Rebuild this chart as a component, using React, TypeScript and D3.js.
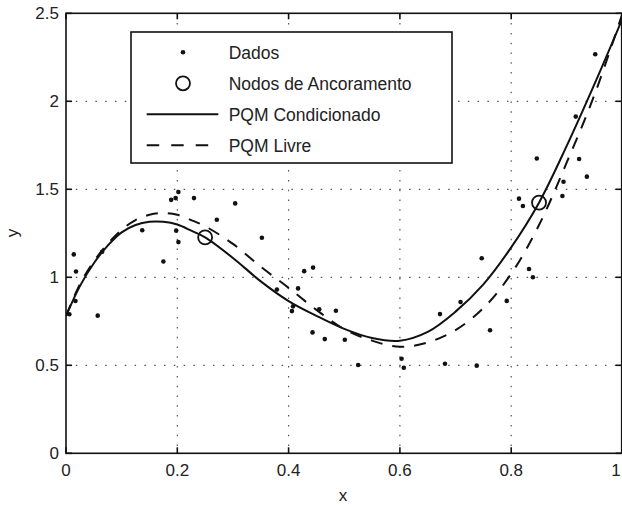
import React from "react";
import * as d3 from "d3";

const xTicks = [0, 0.2, 0.4, 0.6, 0.8, 1];
const yTicks = [0, 0.5, 1, 1.5, 2, 2.5];
const xTickLabels = ["0", "0.2", "0.4", "0.6", "0.8", "1"];
const yTickLabels = ["0", "0.5", "1", "1.5", "2", "2.5"];

const dataX = [0.006, 0.017, 0.014, 0.018, 0.057, 0.065, 0.137, 0.175, 0.189, 0.197, 0.202, 0.198, 0.202, 0.23, 0.304, 0.271, 0.352, 0.379, 0.406, 0.408, 0.417, 0.428, 0.444, 0.443, 0.455, 0.465, 0.485, 0.501, 0.525, 0.603, 0.607, 0.672, 0.681, 0.709, 0.738, 0.747, 0.762, 0.792, 0.814, 0.821, 0.832, 0.839, 0.846, 0.892, 0.894, 0.916, 0.922, 0.936, 0.951];
const dataY = [0.79, 0.865, 1.13, 1.033, 0.782, 1.145, 1.267, 1.09, 1.44, 1.45, 1.485, 1.265, 1.2, 1.45, 1.42, 1.327, 1.225, 0.93, 0.808, 0.835, 0.937, 1.035, 1.055, 0.687, 0.818, 0.649, 0.81, 0.645, 0.502, 0.537, 0.486, 0.791, 0.509, 0.86, 0.498, 1.108, 0.699, 0.866, 1.447, 1.405, 1.047, 1.0, 1.675, 1.462, 1.543, 1.913, 1.672, 1.572, 2.267];

const anchorX = [0.25, 0.85];
const anchorY = [1.227, 1.424];

const curveX = [0, 0.025, 0.05, 0.075, 0.1, 0.125, 0.15, 0.175, 0.2, 0.225, 0.25, 0.3, 0.35, 0.4, 0.45, 0.5, 0.55, 0.6, 0.65, 0.7, 0.75, 0.8, 0.85, 0.9, 0.95, 1.0];
const condY = [0.78, 0.95, 1.08, 1.18, 1.255, 1.297, 1.315, 1.315, 1.3, 1.265, 1.227, 1.11, 0.977, 0.865, 0.781, 0.707, 0.655, 0.64, 0.69, 0.805, 0.96, 1.17, 1.424, 1.748, 2.1, 2.47];
const freeY = [0.78, 0.96, 1.09, 1.19, 1.27, 1.325, 1.355, 1.365, 1.355, 1.325, 1.29, 1.19, 1.06, 0.94, 0.815, 0.705, 0.64, 0.605, 0.63, 0.7, 0.825, 1.02, 1.297, 1.654, 2.04, 2.5];

const legendLabels = ["Dados", "Nodos de Ancoramento", "PQM Condicionado", "PQM Livre"];

const W = 622;
const H = 505;
const L = 66;
const R = 622.5;
const T = 13.3;
const B = 453.3;
const FONT = "'Liberation Sans', Arial, Helvetica, sans-serif";

export default function App() {
  const x = d3.scaleLinear().domain([0, 1]).range([L, R]);
  const y = d3.scaleLinear().domain([0, 2.5]).range([B, T]);
  const line = d3
    .line<number>()
    .x((_, i) => x(curveX[i]))
    .y((d) => y(d))
    .curve(d3.curveCatmullRom.alpha(0.5));

  const tickLen = 6;
  const rows = [52.3, 83.3, 114.3, 145.3];

  return (
    <div style={{ position: "fixed", left: 0, top: 0 }}>
      <svg width={W} height={H} style={{ display: "block", background: "#fff" }} fontFamily={FONT}>
        <defs>
          <clipPath id="plot">
            <rect x={L} y={T} width={R - L} height={B - T} />
          </clipPath>
        </defs>
        {xTicks.slice(1, -1).map((t) => (
          <line key={"gx" + t} x1={x(t)} x2={x(t)} y1={T} y2={B} stroke="#555" strokeWidth={1.2} strokeDasharray="1.5,8.3" />
        ))}
        {yTicks.slice(1, -1).map((t) => (
          <line key={"gy" + t} x1={L} x2={R} y1={y(t)} y2={y(t)} stroke="#555" strokeWidth={1.2} strokeDasharray="1.5,8.3" />
        ))}
        <g clipPath="url(#plot)">
          <path d={line(freeY) || ""} fill="none" stroke="#111" strokeWidth={2} strokeDasharray="12,10" />
          <path d={line(condY) || ""} fill="none" stroke="#111" strokeWidth={2} />
        </g>
        {dataX.map((dx, i) => (
          <circle key={"d" + i} cx={x(dx)} cy={y(dataY[i])} r={2.3} fill="#111" />
        ))}
        {anchorX.map((ax, i) => (
          <circle key={"a" + i} cx={x(ax)} cy={y(anchorY[i])} r={7} fill="none" stroke="#111" strokeWidth={1.8} />
        ))}
        <rect x={L} y={T} width={R - L - 0.8} height={B - T} fill="none" stroke="#111" strokeWidth={1.6} />
        {xTicks.map((t) => (
          <g key={"tx" + t}>
            <line x1={x(t)} x2={x(t)} y1={B} y2={B - tickLen} stroke="#111" strokeWidth={1.6} />
            <line x1={x(t)} x2={x(t)} y1={T} y2={T + tickLen} stroke="#111" strokeWidth={1.6} />
          </g>
        ))}
        {yTicks.map((t) => (
          <g key={"ty" + t}>
            <line x1={L} x2={L + tickLen} y1={y(t)} y2={y(t)} stroke="#111" strokeWidth={1.6} />
            <line x1={R - 0.8} x2={R - 0.8 - tickLen} y1={y(t)} y2={y(t)} stroke="#111" strokeWidth={1.6} />
          </g>
        ))}
        {xTicks.map((t, i) => (
          <text key={"lx" + t} x={Math.min(x(t), 616)} y={476} textAnchor="middle" fontSize={17} fill="#222">
            {xTickLabels[i]}
          </text>
        ))}
        {yTicks.map((t, i) => (
          <text key={"ly" + t} x={59} y={y(t)} dy="0.36em" textAnchor="end" fontSize={17} fill="#222">
            {yTickLabels[i]}
          </text>
        ))}
        <text x={343} y={501} textAnchor="middle" fontSize={17} fill="#222">x</text>
        <text transform="translate(18,233) rotate(-90)" textAnchor="middle" fontSize={17} fill="#222">y</text>
        <rect x={131} y={32} width={321} height={131} fill="#fff" stroke="#111" strokeWidth={1.6} />
        <circle cx={183} cy={rows[0]} r={2.3} fill="#111" />
        <circle cx={183} cy={rows[1]} r={7} fill="none" stroke="#111" strokeWidth={1.8} />
        <line x1={146.7} x2={218.3} y1={rows[2]} y2={rows[2]} stroke="#111" strokeWidth={2} />
        <line x1={146.7} x2={218.3} y1={rows[3]} y2={rows[3]} stroke="#111" strokeWidth={2} strokeDasharray="12.5,12" />
        {legendLabels.map((lab, i) => (
          <text key={lab} x={228.7} y={rows[i]} dy="0.36em" fontSize={17.5} fill="#222">
            {lab}
          </text>
        ))}
      </svg>
    </div>
  );
}
